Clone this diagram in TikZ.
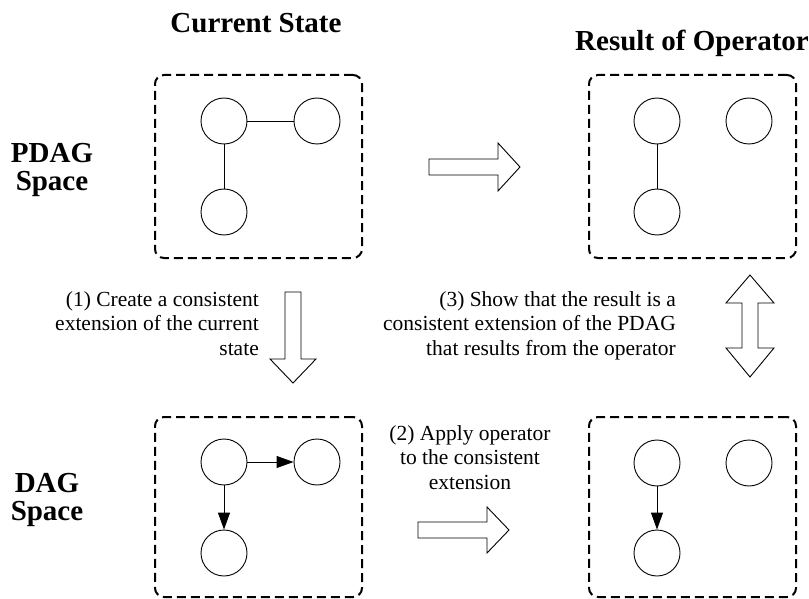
\documentclass[tikz,border=0pt]{standalone}
\usepackage{fontspec}
\setmainfont{Liberation Serif}
\usetikzlibrary{arrows.meta}
\begin{document}
\begin{tikzpicture}[x=1pt,y=-1pt,
  frame/.style={draw, line width=2pt, dash pattern=on 9pt off 5pt, rounded corners=9pt, minimum width=207pt, inner sep=0},
  vert/.style={draw, circle, line width=0.9pt, minimum size=46pt, inner sep=0},
  link/.style={line width=0.9pt},
  dirlink/.style={link, -{Triangle[length=17pt,width=12pt]}},
  blockarrow/.style={draw, line width=0.9pt, fill=white, line join=miter},
  title/.style={font=\fontsize{29}{28}\selectfont\bfseries, inner sep=0},
  lab/.style={font=\fontsize{21.5}{24.5}\selectfont, inner sep=0}]
\useasboundingbox (0,0) rectangle (809,599);

% titles
\node[title, anchor=base] (t1) at (256,33) {Current State};
\node[title, anchor=base] (t2) at (692,51) {Result of Operator};
\node[title, anchor=base, align=center] (s1) at (52,190) {PDAG\\Space};
\node[title, anchor=base, align=center] (s2) at (47,520) {DAG\\Space};

% frames
\node[frame, minimum height=183pt] (b1) at (258.5,166.5) {};
\node[frame, minimum height=183pt] (b2) at (692.5,166.5) {};
\node[frame, minimum height=180pt] (b3) at (258.5,507) {};
\node[frame, minimum height=180pt] (b4) at (692.5,507) {};

% graphs
\node[vert] (p1) at (224,121) {};
\node[vert] (p2) at (317,121) {};
\node[vert] (p3) at (224,212) {};
\draw[link] (p1) -- (p2);
\draw[link] (p1) -- (p3);

\node[vert] (q1) at (657,121) {};
\node[vert] (q2) at (749,121) {};
\node[vert] (q3) at (657,212) {};
\draw[link] (q1) -- (q3);

\node[vert] (d1) at (224,462) {};
\node[vert] (d2) at (317,462) {};
\node[vert] (d3) at (224,553) {};
\draw[dirlink] (d1) -- (d2);
\draw[dirlink] (d1) -- (d3);

\node[vert] (r1) at (657,463) {};
\node[vert] (r2) at (749,463) {};
\node[vert] (r3) at (657,553) {};
\draw[dirlink] (r1) -- (r3);

% block arrows
\draw[blockarrow] (429,159) -- (498,159) -- (498,143) -- (520,167) -- (498,191) -- (498,175) -- (429,175) -- cycle;
\draw[blockarrow] (285,292) -- (301,292) -- (301,359) -- (316,359) -- (293,383) -- (270,359) -- (285,359) -- cycle;
\draw[blockarrow] (418,522) -- (487,522) -- (487,507) -- (509,530) -- (487,553) -- (487,538) -- (418,538) -- cycle;
\draw[blockarrow] (750,275) -- (774,303) -- (758,303) -- (758,348) -- (774,348) -- (750,377) -- (726,348) -- (742,348) -- (742,303) -- (726,303) -- cycle;

% labels
\node[lab, anchor=base east, align=right] (l1) at (259,355) {(1) Create a consistent\\extension of the current\\state};
\node[lab, anchor=base east, align=right] (l3) at (676,355) {(3) Show that the result is a\\consistent extension of the PDAG\\that results from the operator};
\node[lab, anchor=base, align=center] (l2) at (470,489) {(2) Apply operator\\to the consistent\\extension};
\end{tikzpicture}
\end{document}
